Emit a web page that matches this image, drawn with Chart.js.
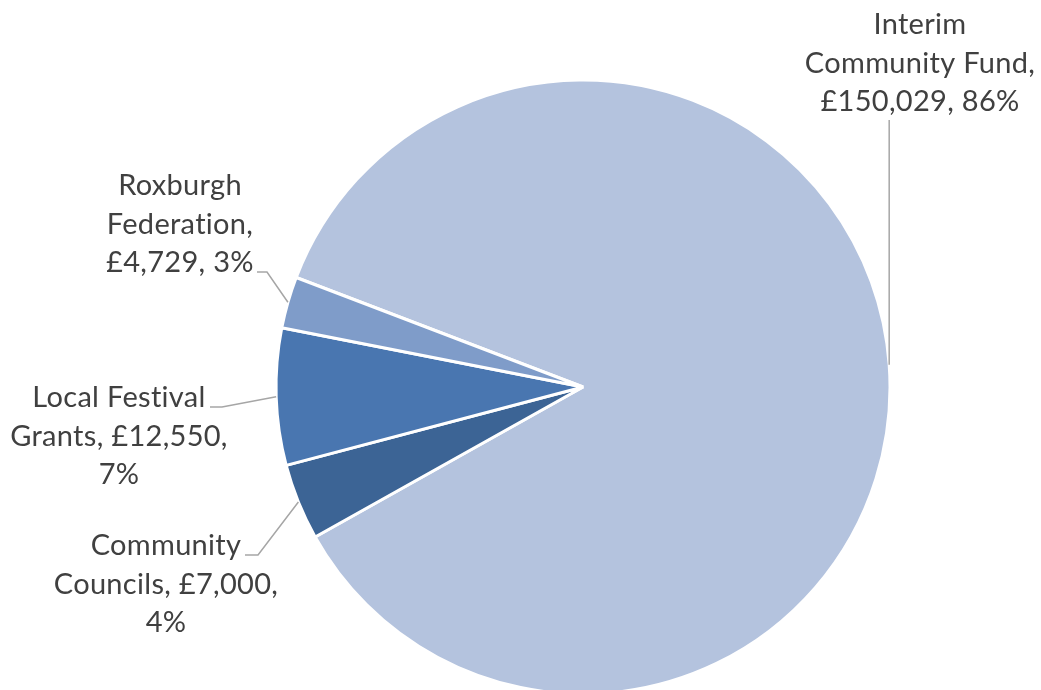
<!DOCTYPE html>
<html>
<head>
<meta charset="utf-8">
<script src="https://cdn.jsdelivr.net/npm/chart.js@4"></script>
<style>
  html, body { margin: 0; padding: 0; background: #ffffff; overflow: hidden; }
  #wrap { width: 1041px; height: 690px; position: relative; }
</style>
</head>
<body>
<div id="wrap"><canvas id="c" width="1041" height="690"></canvas></div>
<script>
// ---- data ----
const categories = ['Interim Community Fund', 'Community Councils', 'Local Festival Grants', 'Roxburgh Federation'];
const values = [150029, 7000, 12550, 4729];
const colors = ['#B4C3DE', '#3C6495', '#4976B0', '#7F9CC9'];

const total = values.reduce((a, b) => a + b, 0);
const labelTexts = categories.map((c, i) =>
  c + ', £' + values[i].toLocaleString('en-GB') + ', ' + Math.round(values[i] / total * 100) + '%');

// label placement (text block centre x, first line centre y, wrap width, leader start, elbow)
const labelLayout = [
  { cx: 920, y0: 25,  wrap: 240, start: null,       elbow: null },
  { cx: 166, y0: 546, wrap: 232, start: [245, 555], elbow: [258, 555] },
  { cx: 119, y0: 398, wrap: 232, start: [210, 407], elbow: [222, 407] },
  { cx: 180, y0: 186, wrap: 165, start: [257, 272], elbow: [267, 272] }
];

const FONT = '29px Lato';
const LINE_H = 38.5;

function wrapText(ctx, text, maxW) {
  const words = text.split(' ');
  const lines = [];
  let cur = '';
  for (const w of words) {
    const t = cur ? cur + ' ' + w : w;
    if (cur && ctx.measureText(t).width > maxW) { lines.push(cur); cur = w; }
    else cur = t;
  }
  if (cur) lines.push(cur);
  return lines;
}

const labelPlugin = {
  id: 'pieLabels',
  afterDatasetsDraw(chart) {
    const ctx = chart.ctx;
    const meta = chart.getDatasetMeta(0);
    ctx.save();
    ctx.font = FONT;
    if ('letterSpacing' in ctx) ctx.letterSpacing = '0.3px';
    meta.data.forEach((arc, i) => {
      const p = arc.getProps(['x', 'y', 'startAngle', 'endAngle', 'outerRadius'], true);
      const mid = (p.startAngle + p.endAngle) / 2;
      const ax = p.x + Math.cos(mid) * p.outerRadius;
      const ay = p.y + Math.sin(mid) * p.outerRadius;
      const L = labelLayout[i];
      const lines = wrapText(ctx, labelTexts[i], L.wrap);
      // leader line
      ctx.strokeStyle = '#A6A6A6';
      ctx.lineWidth = 1.5;
      ctx.beginPath();
      if (L.start) {
        ctx.moveTo(L.start[0], L.start[1]);
        ctx.lineTo(L.elbow[0], L.elbow[1]);
      } else {
        ctx.moveTo(ax, L.y0 + (lines.length - 1) * LINE_H + 18);
      }
      ctx.lineTo(ax, ay);
      ctx.stroke();
      // text
      ctx.fillStyle = '#404040';
      ctx.textAlign = 'center';
      ctx.textBaseline = 'middle';
      lines.forEach((ln, k) => ctx.fillText(ln, L.cx, L.y0 + k * LINE_H));
    });
    ctx.restore();
  }
};

new Chart(document.getElementById('c'), {
  type: 'pie',
  data: {
    labels: categories,
    datasets: [{
      data: values,
      backgroundColor: colors,
      borderColor: '#ffffff',
      borderWidth: 3,
      clip: false
    }]
  },
  options: {
    responsive: false,
    devicePixelRatio: 1,
    animation: false,
    rotation: 290.9,
    radius: 307,
    layout: { padding: { left: 125, right: 0, top: 84, bottom: 0 } },
    plugins: { legend: { display: false }, tooltip: { enabled: false } }
  },
  plugins: [labelPlugin]
});
</script>
</body>
</html>
